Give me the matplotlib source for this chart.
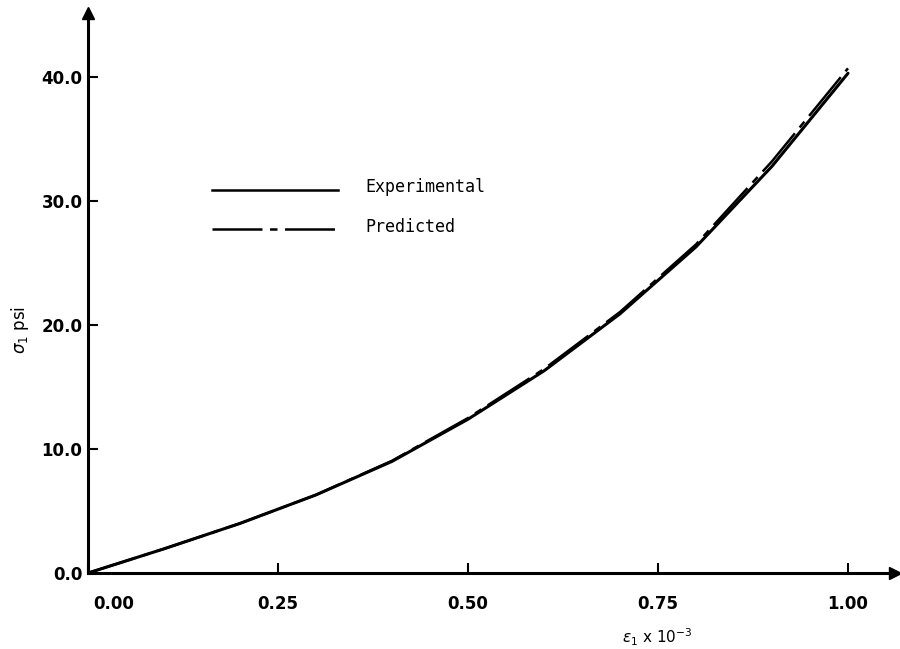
import matplotlib
matplotlib.use("Agg")
import matplotlib.pyplot as plt
import matplotlib.transforms as mtransforms

# strain (x 10^-3) and stress (psi)
strain = [0.0, 0.1, 0.2, 0.3, 0.4, 0.5, 0.6, 0.7, 0.8, 0.9, 1.0]
stress_exp = [0.0, 1.95, 4.0, 6.3, 9.0, 12.4, 16.3, 20.9, 26.3, 32.8, 40.3]
stress_pred = [0.0, 1.95, 4.0, 6.3, 9.05, 12.5, 16.45, 21.05, 26.5, 33.2, 40.7]

x_ticks = [0.0, 0.25, 0.50, 0.75, 1.00]
x_tick_labels = ["0.00", "0.25", "0.50", "0.75", "1.00"]
y_ticks = [0.0, 10.0, 20.0, 30.0, 40.0]
y_tick_labels = ["0.0", "10.0", "20.0", "30.0", "40.0"]

DASH_DOT = (20, 3, 3, 3)

fig = plt.figure(figsize=(9.0, 6.49), dpi=100)
ax = fig.add_axes([88 / 900, 76 / 649, 807 / 900, 560 / 649])
ax.set_xlim(0, 807 / 760)
ax.set_ylim(0, 560 / 12.4)

ax.plot(strain, stress_exp, color="black", lw=2.2, solid_capstyle="round")
ax.plot(strain, stress_pred, color="black", lw=1.8, dashes=DASH_DOT)

for side in ("top", "right"):
    ax.spines[side].set_visible(False)
for side in ("left", "bottom"):
    ax.spines[side].set_linewidth(2.2)

# arrow heads on the axes
ax.plot(1, 0, ">", color="black", ms=9, transform=ax.get_yaxis_transform(), clip_on=False)
ax.plot(0, 1, "^", color="black", ms=9, transform=ax.get_xaxis_transform(), clip_on=False)

ax.set_xticks(x_ticks)
ax.set_xticklabels(x_tick_labels)
ax.set_yticks(y_ticks)
ax.set_yticklabels(y_tick_labels)
ax.tick_params(axis="both", direction="in", length=7, width=1.5, labelsize=12)
ax.tick_params(axis="x", pad=16)
ax.tick_params(axis="y", pad=4)
for lab in ax.get_xticklabels() + ax.get_yticklabels():
    lab.set_fontweight("semibold")
# the first x label sits right of the origin
shift = mtransforms.ScaledTranslation(26 / 100, 0, fig.dpi_scale_trans)
first = ax.get_xticklabels()[0]
first.set_transform(first.get_transform() + shift)

fig.text(622 / 900, 1 - 637 / 649, r"$\epsilon_1$ x $10^{-3}$", fontsize=11,
         va="center", ha="left")
fig.text(20 / 900, 1 - 330 / 649, r"$\sigma_1$ psi", fontsize=12,
         rotation=90, va="center", ha="center")

# key
kx = [212 / 900, 338 / 900]
fig.add_artist(plt.Line2D(kx, [1 - 190 / 649] * 2, color="black", lw=1.8))
fig.add_artist(plt.Line2D(kx, [1 - 229 / 649] * 2, color="black", lw=1.8,
                          dashes=DASH_DOT))
fig.text(365 / 900, 1 - 187 / 649, "Experimental", family="DejaVu Sans Mono",
         fontsize=12, va="center")
fig.text(365 / 900, 1 - 227 / 649, "Predicted", family="DejaVu Sans Mono",
         fontsize=12, va="center")

fig.savefig("out.png", dpi=100)
